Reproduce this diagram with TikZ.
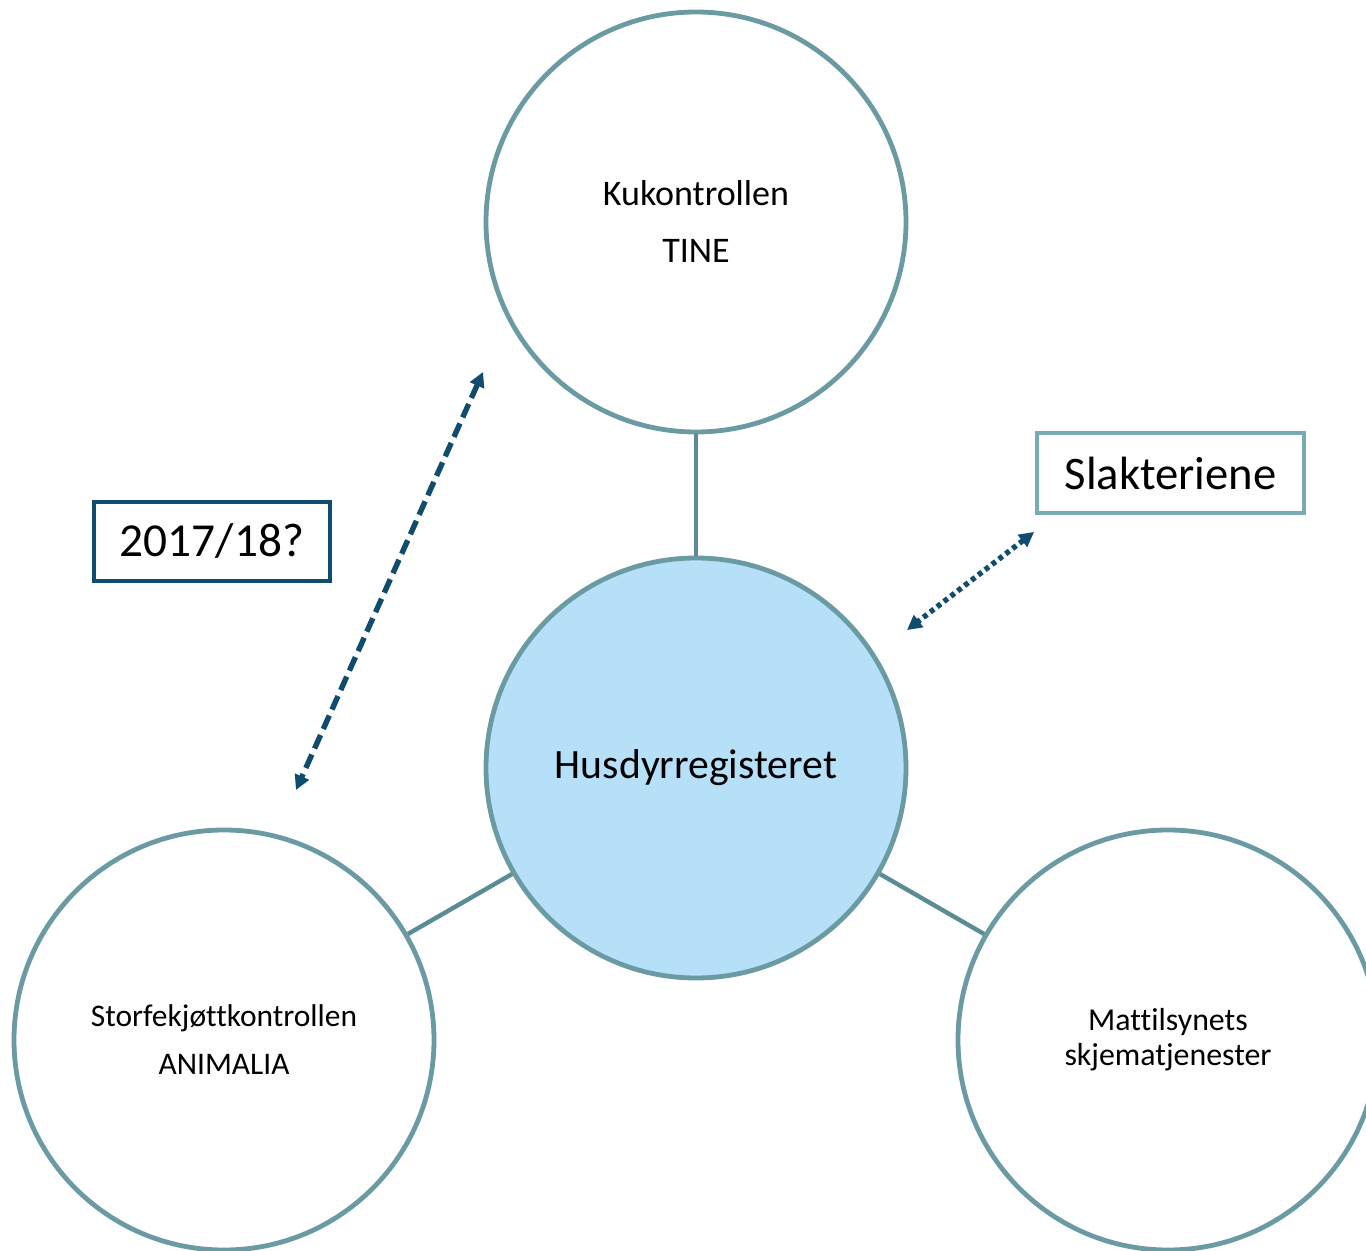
\documentclass[tikz,border=0pt]{standalone}
\usepackage{fontspec}
\setmainfont{Carlito}[Ligatures=NoCommon]
\usetikzlibrary{arrows.meta}
\definecolor{ring}{HTML}{6A9AA2}
\definecolor{linkc}{HTML}{5B8B94}
\definecolor{hubfill}{HTML}{B5E0F7}
\definecolor{navy}{HTML}{0F4C6D}
\definecolor{tealbox}{HTML}{79ABB3}
\tikzset{
  bubble/.style={circle, draw=ring, line width=3.6pt, minimum size=315pt, inner sep=0pt, align=center, fill=white},
  hub/.style={bubble, fill=hubfill},
  linkline/.style={draw=linkc, line width=3.3pt},
  tagbox/.style={rectangle, line width=3pt, inner sep=0pt, fill=white},
  dasharrow/.style={navy, line width=4pt, dash pattern=on 11pt off 5pt, {Triangle[length=11pt,width=11pt]}-{Triangle[length=11pt,width=11pt]}},
  dotarrow/.style={navy, line width=4pt, dash pattern=on 3.5pt off 3pt, {Triangle[length=11pt,width=11pt]}-{Triangle[length=11pt,width=11pt]}},
}
\begin{document}
\begin{tikzpicture}[x=0.75pt, y=-0.75pt]
\useasboundingbox (0,0) rectangle (1366,1251);
\clip (0,0) rectangle (1366,1251);

\node[bubble, font=\fontsize{27}{42.75}\selectfont] (tine) at (696,222) {Kukontrollen\\TINE};
\node[hub, font=\fontsize{31.3}{36}\selectfont] (hdr) at (696,768) {Husdyrregisteret};
\node[bubble, font=\fontsize{23.6}{36}\selectfont] (anim) at (224,1040) {Storfekjøttkontrollen\\ANIMALIA};
\node[bubble, font=\fontsize{23.9}{26.25}\selectfont] (matt) at (1168,1040) {Mattilsynets\\skjematjenester};

\draw[linkline] (tine) -- (hdr);
\draw[linkline] (hdr) -- (anim);
\draw[linkline] (hdr) -- (matt);

\node[tagbox, draw=navy, minimum width=177pt, minimum height=59pt, font=\fontsize{35.5}{40}\selectfont] (year) at (212,541.5) {2017/18?};
\node[tagbox, draw=tealbox, minimum width=200pt, minimum height=60pt, font=\fontsize{35}{40}\selectfont] (slakt) at (1170.5,473) {Slakteriene};

\coordinate (d1) at (483,372);
\coordinate (d2) at (296,790);
\coordinate (s1) at (1034,532);
\coordinate (s2) at (907,630);
\begin{scope}[shift={(3,3)}]
\draw[dasharrow, draw=black!35, fill=black!35, opacity=0.5] (d1) -- (d2);
\draw[dotarrow, draw=black!35, fill=black!35, opacity=0.5] (s1) -- (s2);
\end{scope}
\draw[dasharrow] (d1) -- (d2);
\draw[dotarrow] (s1) -- (s2);
\end{tikzpicture}
\end{document}
